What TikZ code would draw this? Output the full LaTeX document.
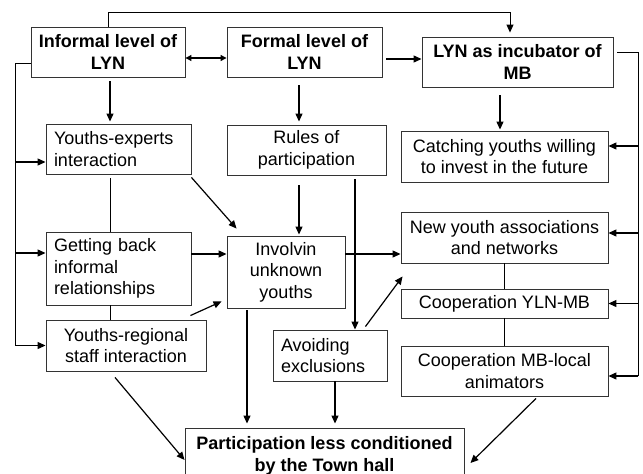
\documentclass[tikz,border=0pt]{standalone}
\usepackage{fontspec}
\setmainfont{Liberation Sans}
\usetikzlibrary{arrows.meta,calc}

\begin{document}
\begin{tikzpicture}[x=1pt,y=-1pt,
    box/.style={draw=black!80, line width=0.9pt, inner sep=0pt, align=center,
      font=\fontsize{18}{21.5}\selectfont},
    boldbox/.style={box, font=\fontsize{18}{21.5}\selectfont\bfseries},
    leftbox/.style={box, align=left, inner xsep=8pt},
    arr/.style={line width=1.2pt, -{Triangle[length=8pt,width=7pt]}},
    twoarr/.style={line width=1.2pt, {Triangle[length=6pt,width=6pt]}-{Triangle[length=6pt,width=6pt]}},
    link/.style={line width=0.8pt}]
    \useasboundingbox (0,0) rectangle (643,474);

    % Top row: the three levels of LYN
    \node[boldbox, minimum width=154pt, minimum height=50pt] (informal) at (108,52) {Informal level of\\LYN};
    \node[boldbox, minimum width=155pt, minimum height=50pt] (formal) at (304.5,52) {Formal level of\\LYN};
    \node[boldbox, minimum width=191pt, minimum height=50pt] (incub) at (517.5,62) {LYN as incubator of\\MB};

    % Left column
    \node[leftbox, text width=129pt, minimum height=50pt] (experts) at (118.5,149) {Youths-experts\\interaction};
    \node[leftbox, text width=129pt, minimum height=73pt] (getting) at (118.5,268.5) {Getting back\\informal\\relationships};
    \node[box, minimum width=160pt, minimum height=51pt] (regional) at (126,345.5) {Youths-regional\\staff interaction};

    % Middle column
    \node[box, minimum width=159pt, minimum height=50pt] (rules) at (306.5,150) {Rules of\\participation};
    \node[box, minimum width=118pt, minimum height=72pt] (involv) at (286,272) {Involvin\\unknown\\youths};
    \node[leftbox, text width=98pt, minimum height=51pt] (avoid) at (330,355.5) {Avoiding\\exclusions};

    % Right column
    \node[box, minimum width=207pt, minimum height=51pt] (catching) at (504.5,156.5) {Catching youths willing\\to invest in the future};
    \node[box, minimum width=207pt, minimum height=51pt] (newyouth) at (504.5,237.5) {New youth associations\\and networks};
    \node[box, minimum width=207pt, minimum height=29pt] (coopyln) at (504.5,303.5) {Cooperation YLN-MB};
    \node[box, minimum width=207pt, minimum height=50pt] (coopmb) at (504.5,371) {Cooperation MB-local\\animators};

    % Outcome
    \node[boldbox, minimum width=279pt, minimum height=56pt] (partic) at (324.5,456) {Participation less conditioned\\by the Town hall};

    % Top feedback line
    \coordinate (topright) at (510,12);
    \draw[arr, line width=0.9pt, shorten >=4pt] (informal.north) |- (topright) -- (topright |- incub.north);

    % Left feedback line
    \coordinate (leftbot) at ($(regional.west)+(-30,0)$);
    \coordinate (inexp) at ($(experts.west)+(0,13)$);
    \coordinate (inget) at ($(getting.west)+(0,-15.5)$);
    \draw[link] ($(informal.west)+(0,11)$) -| (leftbot);
    \draw[arr] (leftbot |- inexp) -- (inexp);
    \draw[arr] (leftbot |- inget) -- (inget);
    \draw[arr] (leftbot) -- (regional.west);

    % Right feedback line
    \coordinate (rightbot) at ($(coopmb.east)+(30,5)$);
    \coordinate (incatch) at ($(catching.east)+(0,-10.5)$);
    \coordinate (innew) at ($(newyouth.east)+(0,-4.5)$);
    \draw[link] ($(incub.east)+(4,-10)$) -| (rightbot);
    \draw[arr] (rightbot |- incatch) -- (incatch);
    \draw[arr] (rightbot |- innew) -- (innew);
    \draw[arr] (rightbot |- coopyln.east) -- (coopyln.east);
    \draw[arr] (rightbot) -- (rightbot -| coopmb.east);

    % Links along the top row
    \draw[twoarr] ($(informal.east)+(0,6)$) -- ($(formal.west)+(0,6)$);
    \draw[arr, shorten <=4pt] ($(formal.east)+(0,7)$) -- ($(incub.west)+(0,-3)$);

    % Down from the top row
    \draw[arr, shorten <=4pt, shorten >=2pt] ($(informal.south)+(2,0)$) -- ($(experts.north)+(-8.5,0)$);
    \draw[arr, shorten <=8pt, shorten >=3pt] ($(formal.south)+(-5.5,0)$) -- ($(rules.north)+(-7.5,0)$);
    \draw[arr, shorten <=8pt, shorten >=1pt] ($(incub.south)+(-17.5,0)$) -- ($(catching.north)+(-4.5,0)$);

    % Left column links
    \draw[link, shorten <=4pt] ($(experts.south)+(-8.5,0)$) -- ($(getting.north)+(-8.5,0)$);
    \draw[link] ($(getting.south)+(-8.5,0)$) -- ($(regional.north)+(-16,0)$);

    % Into Involvin unknown youths
    \draw[arr] ($(experts.south east)+(0,3)$) -- ($(involv.north west)+(10,-7)$);
    \draw[arr, shorten <=10pt, shorten >=1pt] ($(rules.south)+(-7.5,0)$) -- ($(involv.north)+(13,0)$);
    \draw[arr] ($(getting.east)+(0,-14.5)$) -- ($(involv.west)+(0,-18)$);
    \draw[arr] ($(regional.north east)+(-16,-4)$) -- ($(involv.south west)+(-5,-7)$);

    % Middle and right column links
    \draw[arr] ($(involv.east)+(0,-18)$) -- ($(newyouth.west)+(0,16.5)$);
    \draw[arr, shorten <=4pt] ($(rules.south)+(48.5,0)$) -- ($(avoid.north)+(25,0)$);
    \draw[arr] ($(avoid.north east)+(-22,-3)$) -- ($(newyouth.south west)+(2,13)$);
    \draw[link] (newyouth.south) -- (coopyln.north);
    \draw[link] (coopyln.south) -- (coopmb.north);

    % Into the outcome
    \draw[arr, shorten <=2pt, shorten >=4pt] ($(involv.south)+(-39,0)$) -- ($(partic.north)+(-77.5,0)$);
    \draw[arr] ($(regional.south)+(-11,6)$) -- ($(partic.west)+(0,4)$);
    \draw[arr, shorten >=4pt] ($(avoid.south)+(5,0)$) -- ($(partic.north)+(10.5,0)$);
    \draw[arr] ($(coopmb.south)+(31.5,2)$) -- ($(partic.east)+(6,7)$);
\end{tikzpicture}
\end{document}
